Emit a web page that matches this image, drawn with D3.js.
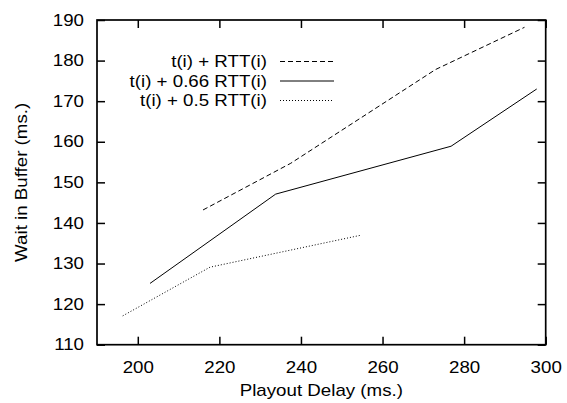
<!DOCTYPE html>
<html>
<head>
<meta charset="utf-8">
<script src="https://cdn.jsdelivr.net/npm/d3@7"></script>
<style>
 body { margin: 0; background: #fff; }
 text { font-family: "Liberation Sans", Arial, sans-serif; fill: #000; }
</style>
</head>
<body>
<svg id="chart" width="567" height="403"></svg>
<script>
// series values: [playout delay, wait in buffer]
var fullRtt = [[216, 143.2], [237.5, 154.7], [273, 177.8], [294.8, 188.2]];
var rtt066 = [[203, 125.1], [233.8, 147.1], [276.8, 158.9], [297.8, 173]];
var rtt05 = [[196.3, 117.1], [217.7, 129.1], [254.8, 137]];

var seriesNames = ["t(i) + RTT(i)", "t(i) + 0.66 RTT(i)", "t(i) + 0.5 RTT(i)"];
var seriesDash = ["5,3", null, "1,2"];

var xTicks = [200, 220, 240, 260, 280, 300];
var yTicks = [110, 120, 130, 140, 150, 160, 170, 180, 190];

var svg = d3.select("#chart");

var plotLeft = 97, plotRight = 545.7, plotTop = 20, plotBottom = 344.7;
var fontSize = 16, stretchX = 1.17;

var x = d3.scaleLinear().domain([190, 300]).range([plotLeft, plotRight]);
var y = d3.scaleLinear().domain([110, 190]).range([plotBottom, plotTop]);

var tickLen = 8;

// the original glyphs are wider than Liberation Sans, stretch them a bit
function stretch(sel){
  sel.each(function(){
    var t = d3.select(this);
    var tx = +(t.attr("x") || 0);
    t.attr("x", tx / stretchX)
     .attr("transform", (t.attr("transform") || "") + " scale(" + stretchX + ",1)");
  });
}

// axes, ticks pointing inward on all four sides
var gx = svg.append("g").attr("transform", "translate(0," + plotBottom + ")")
 .call(d3.axisBottom(x).tickValues(xTicks).tickSizeInner(-tickLen).tickSizeOuter(0).tickPadding(17));
var gxTop = svg.append("g").attr("transform", "translate(0," + plotTop + ")")
 .call(d3.axisTop(x).tickValues(xTicks).tickSizeInner(-tickLen).tickSizeOuter(0).tickFormat(""));
var gy = svg.append("g").attr("transform", "translate(" + plotLeft + ",0)")
 .call(d3.axisLeft(y).tickValues(yTicks).tickSizeInner(-tickLen).tickSizeOuter(0).tickPadding(13));
var gyRight = svg.append("g").attr("transform", "translate(" + plotRight + ",0)")
 .call(d3.axisRight(y).tickValues(yTicks).tickSizeInner(-tickLen).tickSizeOuter(0).tickFormat(""));

[gx, gxTop, gy, gyRight].forEach(function(g){
  g.attr("font-size", null).attr("font-family", null);
  g.select(".domain").remove();
  g.selectAll(".tick line").attr("stroke", "#000").attr("stroke-width", 1.5);
  g.selectAll(".tick text").attr("font-size", fontSize).attr("fill", "#000").call(stretch);
});

// frame
svg.append("rect")
 .attr("x", plotLeft).attr("y", plotTop)
 .attr("width", plotRight - plotLeft).attr("height", plotBottom - plotTop)
 .attr("fill", "none").attr("stroke", "#000").attr("stroke-width", 1.7);

// axis titles
svg.append("text")
 .attr("x", (plotLeft + plotRight) / 2).attr("y", 396)
 .attr("text-anchor", "middle").attr("font-size", fontSize)
 .text("Playout Delay (ms.)")
 .call(stretch);

svg.append("text")
 .attr("transform", "translate(27," + ((plotTop + plotBottom) / 2) + ") rotate(-90)")
 .attr("text-anchor", "middle").attr("font-size", fontSize)
 .text("Wait in Buffer (ms.)")
 .call(stretch);

// lines
var line = d3.line()
 .x(function(d){ return x(d[0]); })
 .y(function(d){ return y(d[1]); });

var allSeries = [fullRtt, rtt066, rtt05];

svg.append("g").selectAll("path")
 .data(allSeries)
 .enter()
 .append("path")
 .attr("d", line)
 .attr("fill", "none")
 .attr("stroke", "#000")
 .attr("stroke-width", 1)
 .attr("stroke-dasharray", function(d, i){ return seriesDash[i]; });

// legend
var legend = svg.append("g").selectAll("g")
 .data(seriesNames)
 .enter()
 .append("g")
 .attr("transform", function(d, i){ return "translate(0," + (61.5 + i * 19.5) + ")"; });

legend.append("text")
 .attr("x", 267).attr("y", 0)
 .attr("dy", "0.35em")
 .attr("text-anchor", "end")
 .attr("font-size", fontSize)
 .text(function(d){ return d; })
 .call(stretch);

legend.append("line")
 .attr("x1", 280).attr("x2", 334)
 .attr("y1", 0).attr("y2", 0)
 .attr("stroke", "#000")
 .attr("stroke-width", 1)
 .attr("stroke-dasharray", function(d, i){ return seriesDash[i]; });
</script>
</body>
</html>
